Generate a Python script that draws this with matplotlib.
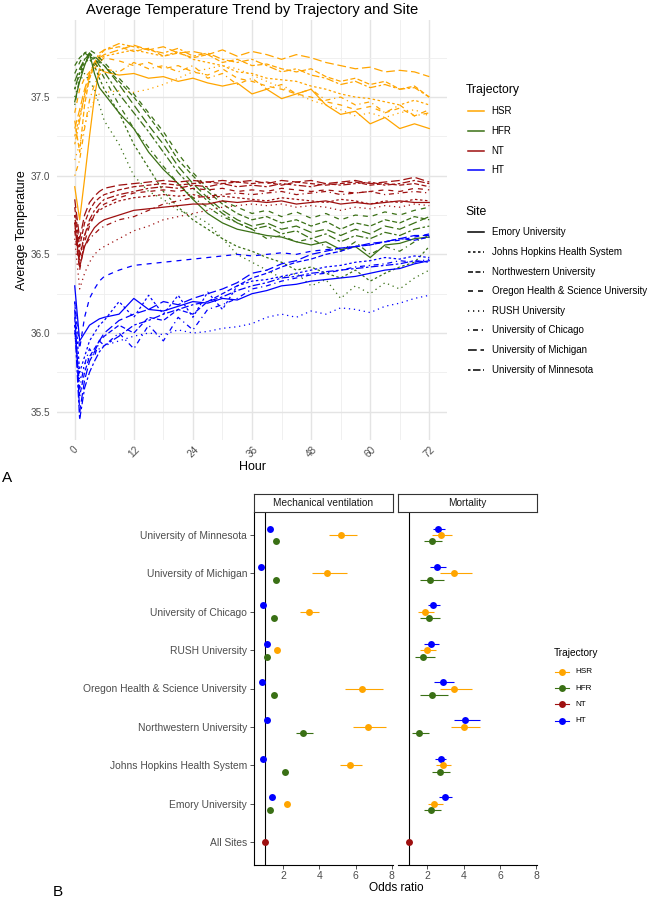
import matplotlib
matplotlib.use('Agg')
import matplotlib.pyplot as plt
from matplotlib.lines import Line2D

plt.rcParams['font.family'] = ['Liberation Sans', 'DejaVu Sans']
plt.rcParams['lines.scale_dashes'] = False

# ---------------- DATA: panel A ----------------
HOURS = [0, 1, 2, 3, 4, 5, 6, 9, 12, 15, 18, 21, 24, 27, 30, 33, 36, 39, 42, 45, 48, 51, 54, 57, 60, 63, 66, 69, 72]
SITES = ['Emory University', 'Johns Hopkins Health System', 'Northwestern University',
         'Oregon Health & Science University', 'RUSH University', 'University of Chicago',
         'University of Michigan', 'University of Minnesota']
TRAJECTORIES = ['HSR', 'HFR', 'NT', 'HT']

HSR_TEMP = {
    'Emory University': [36.93, 36.72, 36.98, 37.25, 37.50, 37.68, 37.66, 37.64, 37.65, 37.62, 37.63, 37.60, 37.62, 37.59, 37.57, 37.59, 37.52, 37.55, 37.49, 37.52, 37.55, 37.45, 37.39, 37.41, 37.33, 37.37, 37.30, 37.33, 37.30],
    'Johns Hopkins Health System': [37.25, 37.38, 37.50, 37.62, 37.70, 37.74, 37.76, 37.78, 37.80, 37.78, 37.76, 37.79, 37.74, 37.72, 37.70, 37.66, 37.65, 37.62, 37.61, 37.60, 37.57, 37.55, 37.52, 37.50, 37.49, 37.47, 37.45, 37.48, 37.45],
    'Northwestern University': [37.35, 37.15, 37.45, 37.62, 37.70, 37.76, 37.80, 37.82, 37.79, 37.81, 37.76, 37.78, 37.75, 37.77, 37.72, 37.74, 37.70, 37.71, 37.68, 37.66, 37.68, 37.63, 37.60, 37.62, 37.58, 37.60, 37.55, 37.57, 37.50],
    'Oregon Health & Science University': [37.40, 37.55, 37.62, 37.66, 37.68, 37.72, 37.75, 37.73, 37.70, 37.72, 37.68, 37.70, 37.66, 37.64, 37.68, 37.62, 37.60, 37.57, 37.55, 37.52, 37.50, 37.47, 37.45, 37.42, 37.44, 37.40, 37.43, 37.38, 37.42],
    'RUSH University': [37.10, 37.20, 37.32, 37.42, 37.48, 37.52, 37.53, 37.54, 37.53, 37.55, 37.58, 37.62, 37.66, 37.68, 37.70, 37.68, 37.64, 37.60, 37.56, 37.52, 37.48, 37.45, 37.42, 37.38, 37.40, 37.37, 37.40, 37.42, 37.38],
    'University of Chicago': [37.00, 37.10, 37.30, 37.48, 37.58, 37.64, 37.68, 37.66, 37.72, 37.68, 37.70, 37.66, 37.70, 37.62, 37.65, 37.58, 37.62, 37.55, 37.58, 37.52, 37.55, 37.48, 37.50, 37.45, 37.47, 37.40, 37.45, 37.38, 37.40],
    'University of Michigan': [37.30, 37.42, 37.55, 37.65, 37.72, 37.75, 37.77, 37.80, 37.83, 37.80, 37.82, 37.78, 37.79, 37.77, 37.80, 37.76, 37.79, 37.77, 37.74, 37.77, 37.75, 37.72, 37.70, 37.68, 37.69, 37.66, 37.67, 37.66, 37.63],
    'University of Minnesota': [37.20, 37.35, 37.52, 37.64, 37.72, 37.78, 37.80, 37.84, 37.82, 37.80, 37.78, 37.81, 37.76, 37.78, 37.74, 37.72, 37.74, 37.70, 37.66, 37.68, 37.64, 37.62, 37.58, 37.60, 37.56, 37.58, 37.55, 37.56, 37.50],
}
HFR_TEMP = {
    'Emory University': [37.47, 37.60, 37.70, 37.78, 37.65, 37.56, 37.52, 37.40, 37.30, 37.15, 37.04, 36.95, 36.85, 36.76, 36.70, 36.66, 36.64, 36.62, 36.61, 36.58, 36.56, 36.58, 36.53, 36.55, 36.48, 36.56, 36.57, 36.60, 36.61],
    'Johns Hopkins Health System': [37.55, 37.65, 37.72, 37.74, 37.70, 37.62, 37.55, 37.40, 37.20, 37.05, 36.90, 36.80, 36.72, 36.66, 36.60, 36.55, 36.52, 36.48, 36.45, 36.40, 36.42, 36.38, 36.35, 36.40, 36.33, 36.38, 36.42, 36.45, 36.55],
    'Northwestern University': [37.70, 37.75, 37.78, 37.76, 37.74, 37.72, 37.70, 37.60, 37.50, 37.38, 37.25, 37.10, 37.00, 36.90, 36.82, 36.76, 36.72, 36.74, 36.70, 36.72, 36.68, 36.71, 36.66, 36.70, 36.68, 36.72, 36.70, 36.74, 36.72],
    'Oregon Health & Science University': [37.65, 37.72, 37.78, 37.80, 37.78, 37.75, 37.72, 37.62, 37.52, 37.40, 37.28, 37.14, 37.02, 36.92, 36.84, 36.80, 36.76, 36.78, 36.74, 36.77, 36.73, 36.76, 36.72, 36.75, 36.74, 36.77, 36.75, 36.78, 36.80],
    'RUSH University': [37.50, 37.60, 37.65, 37.60, 37.55, 37.45, 37.35, 37.20, 37.00, 36.90, 36.85, 36.78, 36.75, 36.70, 36.60, 36.50, 36.45, 36.40, 36.35, 36.38, 36.30, 36.34, 36.22, 36.30, 36.25, 36.32, 36.28, 36.35, 36.40],
    'University of Chicago': [37.45, 37.62, 37.72, 37.76, 37.72, 37.68, 37.62, 37.45, 37.30, 37.18, 37.06, 36.95, 36.86, 36.80, 36.74, 36.70, 36.66, 36.60, 36.62, 36.58, 36.60, 36.55, 36.52, 36.58, 36.50, 36.55, 36.52, 36.58, 36.62],
    'University of Michigan': [37.60, 37.68, 37.74, 37.77, 37.76, 37.73, 37.70, 37.58, 37.45, 37.32, 37.20, 37.06, 36.95, 36.86, 36.78, 36.72, 36.68, 36.70, 36.66, 36.68, 36.64, 36.66, 36.62, 36.66, 36.63, 36.68, 36.66, 36.70, 36.74],
    'University of Minnesota': [37.55, 37.66, 37.74, 37.78, 37.75, 37.70, 37.66, 37.52, 37.40, 37.28, 37.15, 37.02, 36.92, 36.84, 36.76, 36.70, 36.66, 36.68, 36.63, 36.65, 36.60, 36.63, 36.58, 36.62, 36.60, 36.64, 36.62, 36.66, 36.68],
}
NT_TEMP = {
    'Emory University': [36.70, 36.42, 36.55, 36.62, 36.67, 36.70, 36.72, 36.75, 36.78, 36.79, 36.80, 36.81, 36.82, 36.82, 36.84, 36.83, 36.84, 36.83, 36.84, 36.82, 36.83, 36.84, 36.82, 36.83, 36.82, 36.83, 36.84, 36.83, 36.83],
    'Johns Hopkins Health System': [36.75, 36.50, 36.62, 36.70, 36.75, 36.78, 36.80, 36.84, 36.86, 36.87, 36.88, 36.87, 36.88, 36.86, 36.87, 36.86, 36.85, 36.84, 36.86, 36.85, 36.84, 36.83, 36.85, 36.84, 36.82, 36.84, 36.83, 36.85, 36.84],
    'Northwestern University': [36.80, 36.55, 36.70, 36.78, 36.83, 36.86, 36.88, 36.91, 36.93, 36.94, 36.95, 36.94, 36.95, 36.96, 36.95, 36.96, 36.95, 36.96, 36.94, 36.96, 36.95, 36.94, 36.95, 36.96, 36.94, 36.95, 36.94, 36.95, 36.93],
    'Oregon Health & Science University': [36.65, 36.40, 36.58, 36.68, 36.75, 36.79, 36.82, 36.86, 36.89, 36.90, 36.91, 36.90, 36.92, 36.91, 36.92, 36.90, 36.91, 36.90, 36.92, 36.91, 36.90, 36.91, 36.90, 36.89, 36.90, 36.91, 36.90, 36.92, 36.91],
    'RUSH University': [36.60, 36.28, 36.38, 36.45, 36.50, 36.53, 36.55, 36.60, 36.65, 36.68, 36.72, 36.74, 36.76, 36.78, 36.80, 36.81, 36.82, 36.81, 36.82, 36.80, 36.81, 36.80, 36.78, 36.80, 36.79, 36.81, 36.80, 36.82, 36.81],
    'University of Chicago': [36.70, 36.45, 36.55, 36.60, 36.63, 36.66, 36.68, 36.72, 36.74, 36.78, 36.82, 36.84, 36.86, 36.87, 36.88, 36.89, 36.88, 36.89, 36.90, 36.88, 36.89, 36.90, 36.88, 36.89, 36.90, 36.88, 36.89, 36.90, 36.89],
    'University of Michigan': [36.85, 36.60, 36.75, 36.83, 36.87, 36.90, 36.92, 36.94, 36.95, 36.96, 36.97, 36.96, 36.97, 36.96, 36.97, 36.96, 36.97, 36.95, 36.97, 36.96, 36.97, 36.95, 36.96, 36.97, 36.95, 36.96, 36.97, 36.99, 36.96],
    'University of Minnesota': [36.75, 36.48, 36.62, 36.72, 36.78, 36.82, 36.85, 36.88, 36.90, 36.92, 36.93, 36.92, 36.94, 36.93, 36.95, 36.93, 36.94, 36.93, 36.95, 36.94, 36.93, 36.95, 36.94, 36.95, 36.96, 36.94, 36.95, 36.97, 36.95],
}
HT_TEMP = {
    'Emory University': [36.30, 35.95, 36.00, 36.05, 36.07, 36.09, 36.10, 36.12, 36.22, 36.15, 36.14, 36.17, 36.20, 36.19, 36.22, 36.21, 36.25, 36.27, 36.30, 36.31, 36.33, 36.34, 36.35, 36.36, 36.38, 36.40, 36.41, 36.44, 36.46],
    'Johns Hopkins Health System': [36.20, 35.75, 35.85, 35.95, 36.00, 36.05, 36.08, 36.20, 36.10, 36.24, 36.12, 36.24, 36.10, 36.26, 36.15, 36.30, 36.33, 36.34, 36.36, 36.38, 36.40, 36.42, 36.43, 36.45, 36.46, 36.48, 36.47, 36.49, 36.48],
    'Northwestern University': [36.10, 35.60, 35.75, 35.85, 35.90, 35.95, 35.98, 36.05, 36.00, 36.10, 36.08, 36.15, 36.12, 36.20, 36.25, 36.30, 36.35, 36.38, 36.42, 36.45, 36.47, 36.50, 36.52, 36.55, 36.56, 36.58, 36.60, 36.59, 36.61],
    'Oregon Health & Science University': [36.20, 35.90, 36.10, 36.22, 36.28, 36.33, 36.36, 36.40, 36.43, 36.44, 36.45, 36.46, 36.47, 36.48, 36.49, 36.50, 36.49, 36.50, 36.51, 36.50, 36.52, 36.53, 36.54, 36.55, 36.56, 36.58, 36.59, 36.61, 36.63],
    'RUSH University': [36.00, 35.70, 35.80, 35.85, 35.88, 35.90, 35.92, 35.95, 35.98, 36.00, 35.99, 36.02, 36.00, 36.01, 36.03, 36.04, 36.06, 36.10, 36.12, 36.10, 36.14, 36.12, 36.16, 36.15, 36.13, 36.17, 36.19, 36.22, 36.24],
    'University of Chicago': [36.05, 35.65, 35.80, 35.90, 35.85, 35.95, 35.92, 36.00, 35.90, 36.05, 35.95, 36.10, 36.02, 36.15, 36.18, 36.22, 36.28, 36.30, 36.33, 36.35, 36.37, 36.38, 36.40, 36.42, 36.43, 36.44, 36.46, 36.45, 36.47],
    'University of Michigan': [36.15, 35.50, 35.70, 35.82, 35.88, 35.95, 36.00, 36.08, 36.12, 36.15, 36.20, 36.18, 36.22, 36.25, 36.28, 36.32, 36.38, 36.40, 36.44, 36.46, 36.50, 36.52, 36.54, 36.55, 36.57, 36.58, 36.60, 36.62, 36.62],
    'University of Minnesota': [36.05, 35.45, 35.65, 35.75, 35.82, 35.88, 35.92, 35.98, 36.05, 36.08, 36.12, 36.15, 36.18, 36.20, 36.23, 36.27, 36.30, 36.32, 36.35, 36.36, 36.38, 36.39, 36.40, 36.41, 36.42, 36.43, 36.44, 36.46, 36.45],
}

# ---------------- DATA: panel B (bottom to top) ----------------
B_SITES = ['All Sites', 'Emory University', 'Johns Hopkins Health System', 'Northwestern University',
           'Oregon Health & Science University', 'RUSH University', 'University of Chicago',
           'University of Michigan', 'University of Minnesota']
OUTCOMES = ['Mechanical ventilation', 'Mortality']
N = None
# Mechanical ventilation
MV_HT = [N, 1.38, 0.91, 1.13, 0.86, 1.12, 0.91, 0.81, 1.28]
MV_HT_LO = [N, 1.30, 0.84, 1.05, 0.79, 1.04, 0.84, 0.75, 1.20]
MV_HT_HI = [N, 1.46, 0.98, 1.21, 0.93, 1.20, 0.98, 0.88, 1.37]
MV_HSR = [N, 2.20, 5.72, 6.71, 6.38, 1.69, 3.43, 4.45, 5.21]
MV_HSR_LO = [N, 2.08, 5.14, 5.87, 5.41, 1.58, 2.93, 3.61, 4.53]
MV_HSR_HI = [N, 2.32, 6.36, 7.70, 7.52, 1.80, 4.00, 5.54, 6.09]
MV_HFR = [N, 1.28, 2.11, 3.11, 1.50, 1.10, 1.52, 1.63, 1.63]
MV_HFR_LO = [N, 1.20, 1.98, 2.71, 1.38, 1.03, 1.42, 1.50, 1.52]
MV_HFR_HI = [N, 1.36, 2.25, 3.63, 1.65, 1.17, 1.64, 1.78, 1.75]
MV_NT = [1.0, N, N, N, N, N, N, N, N]
# Mortality
MO_HT = [N, 2.97, 2.73, 4.09, 2.86, 2.20, 2.31, 2.53, 2.58]
MO_HT_LO = [N, 2.62, 2.44, 3.45, 2.38, 1.83, 2.04, 2.13, 2.29]
MO_HT_HI = [N, 3.36, 3.04, 4.88, 3.45, 2.62, 2.71, 3.03, 2.95]
MO_HSR = [N, 2.37, 2.86, 4.03, 3.48, 1.98, 1.85, 3.48, 2.75]
MO_HSR_LO = [N, 2.02, 2.49, 3.32, 2.71, 1.58, 1.49, 2.71, 2.26]
MO_HSR_HI = [N, 2.86, 3.32, 4.92, 4.46, 2.49, 2.35, 4.46, 3.36]
MO_HFR = [N, 2.22, 2.71, 1.54, 2.26, 1.76, 2.09, 2.16, 2.26]
MO_HFR_LO = [N, 1.83, 2.26, 1.16, 1.61, 1.30, 1.61, 1.61, 1.83]
MO_HFR_HI = [N, 2.77, 3.26, 2.07, 3.14, 2.44, 2.71, 2.93, 2.81]
MO_NT = [1.0, N, N, N, N, N, N, N, N]

# ---------------- STYLE ----------------
COLORS = {'HSR': '#FFA500', 'HFR': '#3A7015', 'NT': '#9E1010', 'HT': '#0000FF'}
U = 0.9
SITE_LS = {
    'Emory University': '-',
    'Johns Hopkins Health System': (0, (2 * U, 2 * U)),
    'Northwestern University': (0, (4 * U, 2 * U)),
    'Oregon Health & Science University': (0, (4 * U, 4 * U)),
    'RUSH University': (0, (1 * U, 3 * U)),
    'University of Chicago': (0, (1 * U, 3 * U, 4 * U, 3 * U)),
    'University of Michigan': (0, (7 * U, 3 * U)),
    'University of Minnesota': (0, (2 * U, 2 * U, 6 * U, 2 * U)),
}
GREY = '#4D4D4D'
W, H = 651, 899
fig = plt.figure(figsize=(W / 100, H / 100), dpi=100)


def rect(l, t, r, b):
    return [l / W, 1 - b / H, (r - l) / W, (b - t) / H]


# ---------------- PANEL A ----------------
axA = fig.add_axes(rect(57, 20, 447, 440))
temps = {'HSR': HSR_TEMP, 'HFR': HFR_TEMP, 'NT': NT_TEMP, 'HT': HT_TEMP}
for traj in TRAJECTORIES:
    for site in SITES:
        axA.plot(HOURS, temps[traj][site], color=COLORS[traj], linestyle=SITE_LS[site],
                 linewidth=0.9, zorder=3)
axA.set_xlim(-3.6, 75.6)
axA.set_ylim(35.32, 37.99)
axA.set_xticks([0, 12, 24, 36, 48, 60, 72])
axA.set_xticks([6, 18, 30, 42, 54, 66], minor=True)
axA.set_yticks([35.5, 36.0, 36.5, 37.0, 37.5])
axA.set_yticks([35.75, 36.25, 36.75, 37.25, 37.75], minor=True)
axA.set_yticklabels(['35.5', '36.0', '36.5', '37.0', '37.5'])
axA.grid(True, which='major', color='#E4E4E4', linewidth=1.0, zorder=0)
axA.grid(True, which='minor', color='#EEEEEE', linewidth=0.6, zorder=0)
axA.set_axisbelow(True)
for s in axA.spines.values():
    s.set_visible(False)
axA.tick_params(which='both', length=0)
axA.tick_params(axis='y', labelsize=7.2, labelcolor=GREY, pad=5)
axA.tick_params(axis='x', labelsize=7.2, labelcolor=GREY, pad=3)
for lab in axA.get_xticklabels():
    lab.set_rotation(45)
    lab.set_ha('center')
    lab.set_va('top')

# ---------------- PANEL B ----------------
OFF = 0.167
mv = {'HT': (MV_HT, MV_HT_LO, MV_HT_HI), 'HSR': (MV_HSR, MV_HSR_LO, MV_HSR_HI),
      'HFR': (MV_HFR, MV_HFR_LO, MV_HFR_HI)}
mo = {'HT': (MO_HT, MO_HT_LO, MO_HT_HI), 'HSR': (MO_HSR, MO_HSR_LO, MO_HSR_HI),
      'HFR': (MO_HFR, MO_HFR_LO, MO_HFR_HI)}
offsets = {'HT': OFF, 'HSR': 0.0, 'HFR': -OFF}
panels = [(rect(254, 512, 392.7, 865), rect(254, 494.3, 392.7, 511.7), OUTCOMES[0], mv, MV_NT),
          (rect(398.3, 512, 537.3, 865), rect(398.3, 494.3, 537.3, 511.7), OUTCOMES[1], mo, MO_NT)]
yidx = list(range(1, len(B_SITES) + 1))
for k, (r, sr, title, data, nt) in enumerate(panels):
    ax = fig.add_axes(r)
    ax.axvline(1.0, color='black', linewidth=0.8, zorder=1)
    for traj in ['HT', 'HSR', 'HFR']:
        est, lo, hi = data[traj]
        for i, (e, l, h) in enumerate(zip(est, lo, hi)):
            if e is None:
                continue
            y = yidx[i] + offsets[traj]
            ax.hlines(y, l, h, color=COLORS[traj], linewidth=0.8, zorder=2)
            ax.plot([e], [y], 'o', color=COLORS[traj], markersize=5.0, markeredgewidth=0, zorder=3)
    for i, e in enumerate(nt):
        if e is not None:
            ax.plot([e], [yidx[i]], 'o', color=COLORS['NT'], markersize=5.0, markeredgewidth=0, zorder=3)
    ax.set_xlim(0.40, 8.05)
    ax.set_ylim(0.4, 9.6)
    ax.set_xticks([2, 4, 6, 8])
    ax.tick_params(axis='x', labelsize=7.5, labelcolor=GREY, color='#333333', length=3, width=0.6, pad=1)
    ax.spines['top'].set_visible(False)
    ax.spines['right'].set_visible(False)
    ax.spines['bottom'].set_linewidth(0.8)
    if k == 0:
        ax.set_yticks(yidx)
        ax.set_yticklabels(B_SITES)
        ax.tick_params(axis='y', labelsize=7.4, labelcolor=GREY, color='#333333', length=3, width=0.6, pad=2)
        ax.spines['left'].set_linewidth(0.8)
    else:
        ax.set_yticks([])
        ax.spines['left'].set_visible(False)
    sax = fig.add_axes(sr)
    sax.set_xticks([])
    sax.set_yticks([])
    for s in sax.spines.values():
        s.set_linewidth(0.8)
        s.set_color('#333333')
    sax.text(0.5, 0.5, title, ha='center', va='center', fontsize=7.3, color='#1A1A1A',
             transform=sax.transAxes)

# ---------------- OVERLAY (titles, legends, labels) ----------------
ov = fig.add_axes([0, 0, 1, 1], zorder=10)
ov.set_xlim(0, W)
ov.set_ylim(H, 0)
ov.axis('off')
ov.text(252, 10, 'Average Temperature Trend by Trajectory and Site', ha='center', va='center', fontsize=10.6)
ov.text(22, 230, 'Average Temperature', ha='center', va='center', rotation=90, fontsize=9)
ov.text(252, 467, 'Hour', ha='center', va='center', fontsize=9)
ov.text(7, 478, 'A', ha='center', va='center', fontsize=11)
ov.text(58, 892, 'B', ha='center', va='center', fontsize=11)
ov.text(396, 888, 'Odds ratio', ha='center', va='center', fontsize=8.6)

# Legend A: trajectory
ov.text(465.7, 90, 'Trajectory', ha='left', va='center', fontsize=8.8)
for j, traj in enumerate(TRAJECTORIES):
    y = [111.3, 131.0, 150.7, 170.3][j]
    ov.add_line(Line2D([467.7, 484], [y, y], color=COLORS[traj], linewidth=1.1))
    ov.text(491.7, y, traj, ha='left', va='center', fontsize=7)
# Legend A: site
ov.text(465.7, 211.7, 'Site', ha='left', va='center', fontsize=8.8)
for j, site in enumerate(SITES):
    y = 232.3 + j * 19.63
    ov.add_line(Line2D([467.7, 484], [y, y], color='black', linewidth=1.1, linestyle=SITE_LS[site]))
    ov.text(491.7, y, site, ha='left', va='center', fontsize=7)

# Legend B
ov.text(553.3, 653.3, 'Trajectory', ha='left', va='center', fontsize=7.3)
for j, traj in enumerate(TRAJECTORIES):
    y = [671.7, 688.3, 704.3, 720.7][j]
    ov.add_line(Line2D([555, 568.5], [y, y], color=COLORS[traj], linewidth=0.8))
    ov.plot([561.7], [y], 'o', color=COLORS[traj], markersize=5.0, markeredgewidth=0)
    ov.text(575, y, traj, ha='left', va='center', fontsize=5.9)

fig.savefig('out.png', dpi=100)
